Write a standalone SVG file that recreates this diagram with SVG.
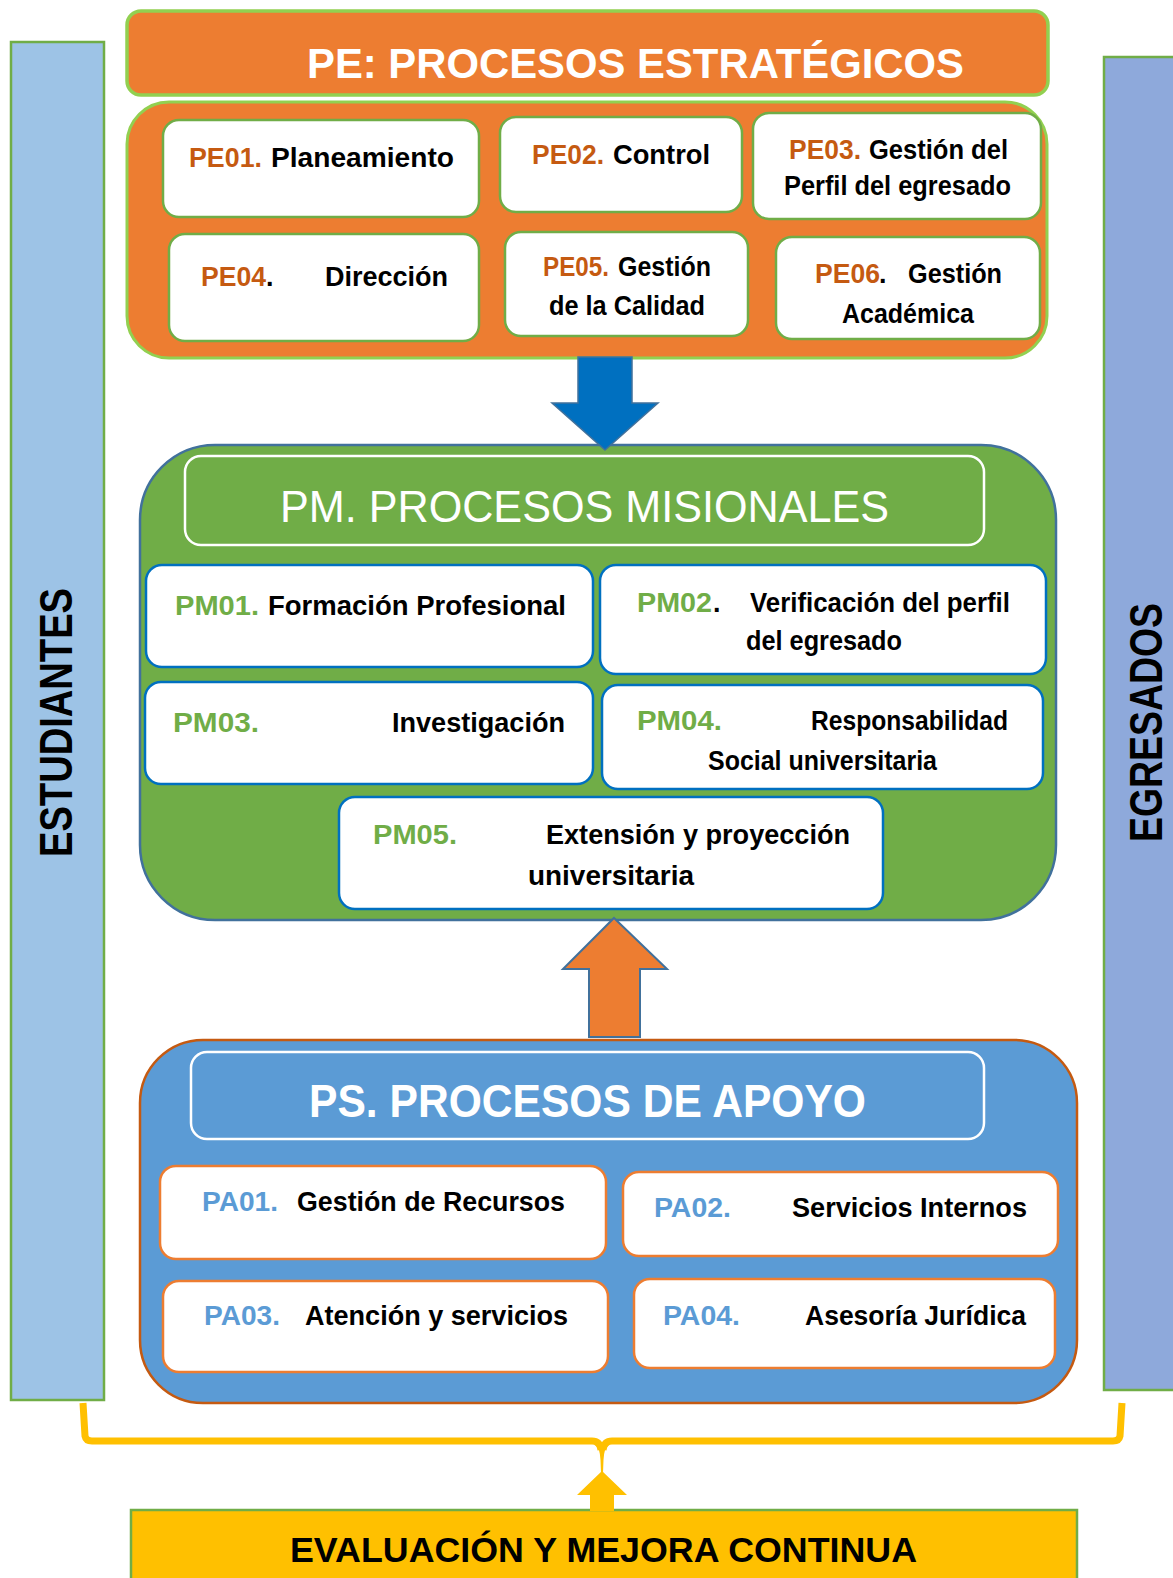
<svg xmlns="http://www.w3.org/2000/svg" width="1173" height="1578" viewBox="0 0 1173 1578">
<style>
text{font-family:"Liberation Sans",Arial,sans-serif;font-weight:bold}
.t{font-size:27px}
.k{fill:#000}
.pe{fill:#C55A11}
.pm{fill:#70AD47}
.pa{fill:#5B9BD5}
.w{fill:#fff}
.npe{fill:#fff;stroke:#70AD47;stroke-width:2.5}
.npm{fill:#fff;stroke:#0070C0;stroke-width:2.5}
.npa{fill:#fff;stroke:#ED7D31;stroke-width:2.5}
.hdr{fill:none;stroke:#fff;stroke-width:2.5}
</style>

<g id="estudiantes">
<rect x="11" y="42" width="93" height="1358" fill="#9DC3E6" stroke="#70AD47" stroke-width="2.5"/>
<text transform="translate(72,857) rotate(-90)" font-size="46" textLength="269" lengthAdjust="spacingAndGlyphs" class="k">ESTUDIANTES</text>
</g>

<g id="egresados">
<rect x="1104" y="57" width="80" height="1333" fill="#8EA9DB" stroke="#70AD47" stroke-width="2.5"/>
<text transform="translate(1162,842) rotate(-90)" font-size="46" textLength="239" lengthAdjust="spacingAndGlyphs" class="k">EGRESADOS</text>
</g>

<g id="pe-header">
<rect x="127" y="11" width="921" height="84" rx="14" fill="#ED7D31" stroke="#92D050" stroke-width="3.5"/>
<text x="307" y="78" font-size="43" textLength="657" lengthAdjust="spacingAndGlyphs" class="w">PE: PROCESOS ESTRATÉGICOS</text>
</g>

<g id="pe-container">
<rect x="127" y="102" width="920" height="256" rx="42" fill="#ED7D31" stroke="#92D050" stroke-width="3"/>
</g>

<g id="pe01">
<rect class="npe" x="163" y="120" width="316" height="97" rx="16"/>
<text class="t pe" x="189" y="167" textLength="73" lengthAdjust="spacingAndGlyphs">PE01.</text>
<text class="t k" x="271" y="167" textLength="183" lengthAdjust="spacingAndGlyphs">Planeamiento</text>
</g>
<g id="pe02">
<rect class="npe" x="500" y="117" width="242" height="95" rx="16"/>
<text class="t pe" x="532" y="164" textLength="72" lengthAdjust="spacingAndGlyphs">PE02.</text>
<text class="t k" x="613" y="164" textLength="97" lengthAdjust="spacingAndGlyphs">Control</text>
</g>
<g id="pe03">
<rect class="npe" x="753" y="113" width="288" height="106" rx="16"/>
<text class="t pe" x="789" y="159" textLength="72" lengthAdjust="spacingAndGlyphs">PE03.</text>
<text class="t k" x="869" y="159" textLength="139" lengthAdjust="spacingAndGlyphs">Gestión del</text>
<text class="t k" x="784" y="195" textLength="227" lengthAdjust="spacingAndGlyphs">Perfil del egresado</text>
</g>
<g id="pe04">
<rect class="npe" x="169" y="234" width="310" height="107" rx="16"/>
<text class="t pe" x="201" y="286" textLength="65" lengthAdjust="spacingAndGlyphs">PE04</text>
<text class="t k" x="266" y="286">.</text>
<text class="t k" x="325" y="286" textLength="123" lengthAdjust="spacingAndGlyphs">Dirección</text>
</g>
<g id="pe05">
<rect class="npe" x="505" y="232" width="243" height="104" rx="16"/>
<text class="t pe" x="543" y="276" textLength="66" lengthAdjust="spacingAndGlyphs">PE05.</text>
<text class="t k" x="618" y="276" textLength="93" lengthAdjust="spacingAndGlyphs">Gestión</text>
<text class="t k" x="549" y="315" textLength="156" lengthAdjust="spacingAndGlyphs">de la Calidad</text>
</g>
<g id="pe06">
<rect class="npe" x="776" y="237" width="264" height="102" rx="16"/>
<text class="t pe" x="815" y="283" textLength="65" lengthAdjust="spacingAndGlyphs">PE06</text>
<text class="t k" x="879" y="283" font-weight="normal">.</text>
<text class="t k" x="908" y="283" textLength="94" lengthAdjust="spacingAndGlyphs">Gestión</text>
<text class="t k" x="842" y="323" textLength="132" lengthAdjust="spacingAndGlyphs">Académica</text>
</g>

<g id="pm-container">
<rect x="140" y="445" width="916" height="475" rx="75" fill="#70AD47" stroke="#41719C" stroke-width="2.5"/>
</g>
<g id="pm-header">
<rect class="hdr" x="185" y="456" width="799" height="89" rx="16"/>
<text x="280" y="522" font-size="45" font-weight="normal" style="font-weight:normal" textLength="609" lengthAdjust="spacingAndGlyphs" class="w">PM. PROCESOS MISIONALES</text>
</g>

<g id="pm01">
<rect class="npm" x="146" y="565" width="447" height="102" rx="16"/>
<text class="t pm" x="175" y="615" textLength="84" lengthAdjust="spacingAndGlyphs">PM01.</text>
<text class="t k" x="268" y="615" textLength="298" lengthAdjust="spacingAndGlyphs">Formación Profesional</text>
</g>
<g id="pm02">
<rect class="npm" x="600" y="565" width="446" height="109" rx="16"/>
<text class="t pm" x="637" y="612" textLength="75" lengthAdjust="spacingAndGlyphs">PM02</text>
<text class="t k" x="713" y="612">.</text>
<text class="t k" x="750" y="612" textLength="260" lengthAdjust="spacingAndGlyphs">Verificación del perfil</text>
<text class="t k" x="746" y="650" textLength="156" lengthAdjust="spacingAndGlyphs">del egresado</text>
</g>
<g id="pm03">
<rect class="npm" x="145" y="682" width="448" height="102" rx="16"/>
<text class="t pm" x="173" y="732" textLength="86" lengthAdjust="spacingAndGlyphs">PM03.</text>
<text class="t k" x="392" y="732" textLength="173" lengthAdjust="spacingAndGlyphs">Investigación</text>
</g>
<g id="pm04">
<rect class="npm" x="602" y="685" width="441" height="104" rx="16"/>
<text class="t pm" x="637" y="730" textLength="85" lengthAdjust="spacingAndGlyphs">PM04.</text>
<text class="t k" x="811" y="730" textLength="197" lengthAdjust="spacingAndGlyphs">Responsabilidad</text>
<text class="t k" x="708" y="770" textLength="229" lengthAdjust="spacingAndGlyphs">Social universitaria</text>
</g>
<g id="pm05">
<rect class="npm" x="339" y="797" width="544" height="112" rx="16"/>
<text class="t pm" x="373" y="844" textLength="84" lengthAdjust="spacingAndGlyphs">PM05.</text>
<text class="t k" x="546" y="844" textLength="304" lengthAdjust="spacingAndGlyphs">Extensión y proyección</text>
<text class="t k" x="528" y="885" textLength="166" lengthAdjust="spacingAndGlyphs">universitaria</text>
</g>

<g id="ps-container">
<rect x="140" y="1040" width="937" height="363" rx="63" fill="#5B9BD5" stroke="#C55A11" stroke-width="2.5"/>
</g>
<g id="ps-header">
<rect class="hdr" x="191" y="1052" width="793" height="87" rx="16"/>
<text x="309" y="1117" font-size="47" textLength="557" lengthAdjust="spacingAndGlyphs" class="w">PS. PROCESOS DE APOYO</text>
</g>

<g id="pa01">
<rect class="npa" x="160" y="1166" width="446" height="93" rx="16"/>
<text class="t pa" x="202" y="1211" textLength="76" lengthAdjust="spacingAndGlyphs">PA01.</text>
<text class="t k" x="297" y="1211" textLength="268" lengthAdjust="spacingAndGlyphs">Gestión de Recursos</text>
</g>
<g id="pa02">
<rect class="npa" x="623" y="1172" width="435" height="84" rx="16"/>
<text class="t pa" x="654" y="1217" textLength="77" lengthAdjust="spacingAndGlyphs">PA02.</text>
<text class="t k" x="792" y="1217" textLength="235" lengthAdjust="spacingAndGlyphs">Servicios Internos</text>
</g>
<g id="pa03">
<rect class="npa" x="163" y="1281" width="445" height="91" rx="16"/>
<text class="t pa" x="204" y="1325" textLength="76" lengthAdjust="spacingAndGlyphs">PA03.</text>
<text class="t k" x="305" y="1325" textLength="263" lengthAdjust="spacingAndGlyphs">Atención y servicios</text>
</g>
<g id="pa04">
<rect class="npa" x="634" y="1279" width="421" height="89" rx="16"/>
<text class="t pa" x="663" y="1325" textLength="77" lengthAdjust="spacingAndGlyphs">PA04.</text>
<text class="t k" x="805" y="1325" textLength="221" lengthAdjust="spacingAndGlyphs">Asesoría Jurídica</text>
</g>

<g id="evaluacion">
<rect x="131" y="1510" width="946" height="90" fill="#FFC000" stroke="#70AD47" stroke-width="2.5"/>
<text x="290" y="1562" font-size="35" textLength="627" lengthAdjust="spacingAndGlyphs" class="k">EVALUACIÓN Y MEJORA CONTINUA</text>
</g>

<g id="connectors">
<polygon points="578,357 632,357 632,403 658,403 605,450 552,403 578,403" fill="#0070C0" stroke="#41719C" stroke-width="1.5"/>
<polygon points="614,918 667,969 640,969 640,1037 589,1037 589,969 563,969" fill="#ED7D31" stroke="#41719C" stroke-width="2"/>
<path d="M83,1403 L85,1436 Q86,1441 92,1441 L592,1441 Q600,1441 601,1450 M1122,1403 L1120,1436 Q1119,1441 1113,1441 L612,1441 Q604,1441 603,1450" fill="none" stroke="#FFC000" stroke-width="7"/>
<path d="M594,1444 Q600,1447 600.5,1460 L601,1473 L603,1473 L603.5,1460 Q604,1447 610,1444 Z" fill="#FFC000"/>
<polygon points="602,1471 627,1495 614,1495 614,1511 590,1511 590,1495 577,1495" fill="#FFC000"/>
</g>
</svg>
